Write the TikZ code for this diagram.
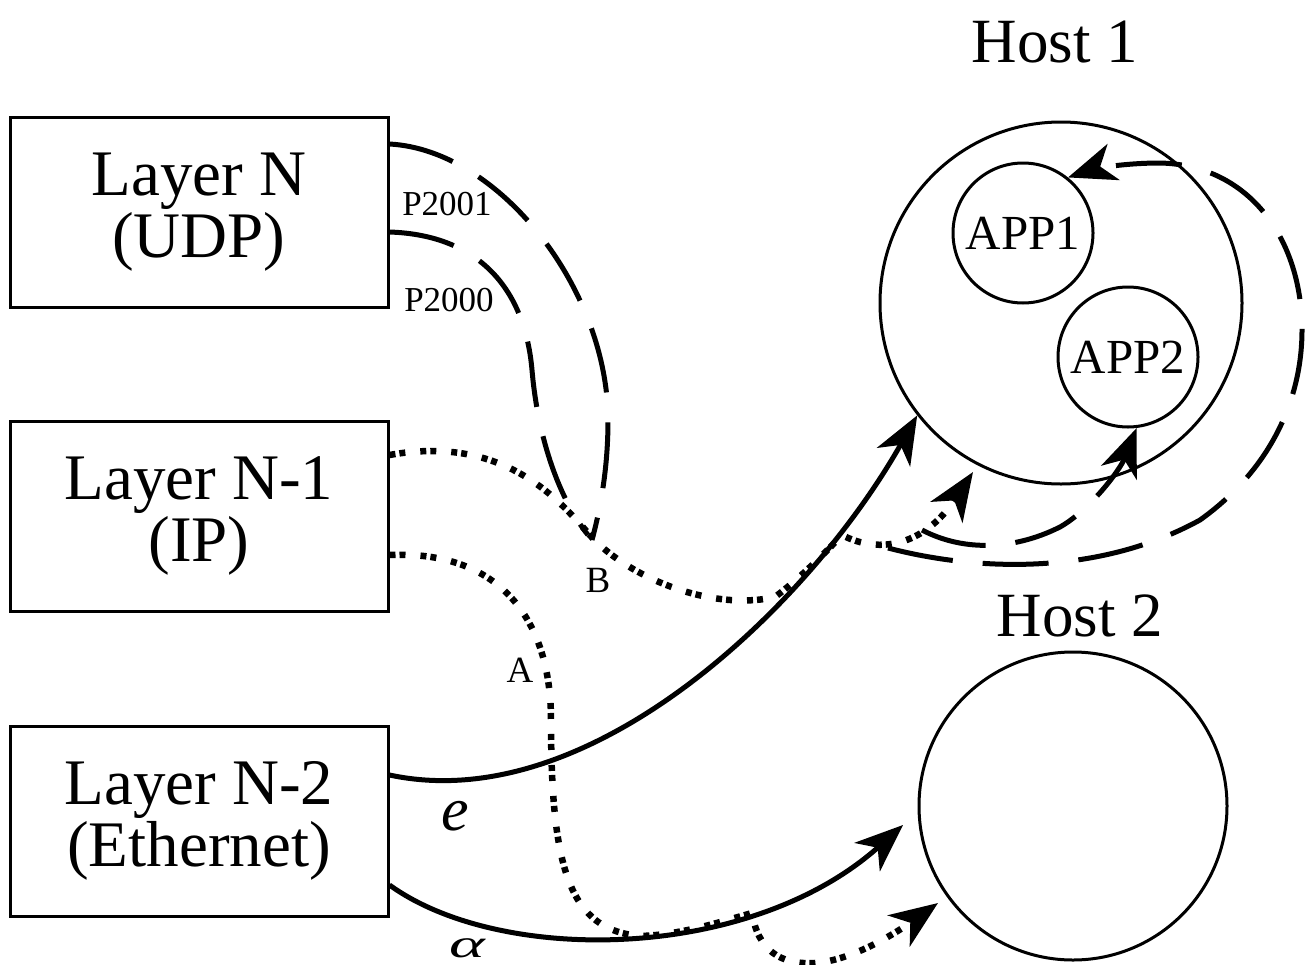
\documentclass[tikz,border=0pt]{standalone}
\usepackage{fontspec}
\usepackage{graphicx}
\setmainfont{Liberation Serif}
\usetikzlibrary{arrows.meta,calc}
\begin{document}
\begin{tikzpicture}[x=1pt,y=-1pt,
  layerbox/.style={draw, line width=3pt, minimum width=378pt, minimum height=190pt, inner sep=0pt, align=center, font=\fontsize{65}{62}\selectfont},
  hostcirc/.style={draw, circle, line width=3pt, inner sep=0pt},
  appcirc/.style={draw, circle, line width=3pt, inner sep=0pt, minimum size=140pt, font=\fontsize{49}{49}\selectfont},
  hostlabel/.style={anchor=base, font=\fontsize{63}{63}\selectfont},
  portlabel/.style={inner sep=0pt, font=\fontsize{35}{35}\selectfont},
  ptlabel/.style={inner sep=0pt, font=\fontsize{37}{37}\selectfont},
  headarrow/.style={-{Stealth[length=48pt,width=38pt,inset=14pt]}},
  solidconn/.style={line width=5pt},
  udpconn/.style={line width=5pt, dash pattern=on 66pt off 30pt},
  ipconn/.style={line width=6.5pt, dash pattern=on 6pt off 4pt on 6pt off 15pt},
]
\useasboundingbox (0,0) rectangle (1309,964);
\fill[white] (0,0) rectangle (1309,964);

% layer boxes
\node[layerbox] (L1) at (199,212) {Layer N\\(UDP)};
\node[layerbox] (L2) at (199,516) {Layer N-1\\(IP)};
\node[layerbox] (L3) at (199,821) {Layer N-2\\(Ethernet)};

% hosts
\node[hostcirc, minimum size=362pt] (H1) at (1061,303) {};
\node[hostcirc, minimum size=308pt] (H2) at (1073,806) {};
\node[appcirc] (A1) at (1023,233) {APP1};
\node[appcirc] (A2) at (1128,357) {APP2};
\node[hostlabel] (H1lab) at (1055,62) {Host 1};
\node[hostlabel] (H2lab) at (1080,636) {Host 2};

% labels
\node[portlabel] (p2001) at (447,204) {P2001};
\node[portlabel] (p2000) at (449,300) {P2000};
\node[ptlabel] (labB) at (598,580) {B};
\node[ptlabel] (labA) at (520,670) {A};
\node[inner sep=0pt] (labe) at (455,816) {\fontsize{62}{62}\selectfont\itshape e};
\node[inner sep=0pt, anchor=base] (labal) at (467,957) {\scalebox{1.7}[1]{\fontsize{40}{40}\selectfont\itshape α}};

% named coordinates
\coordinate (s1) at ($(L1.east)+(0,-68)$);
\coordinate (s2) at ($(L1.east)+(0,20)$);
\coordinate (sB) at ($(L2.east)+(0,-61)$);
\coordinate (sA) at ($(L2.east)+(0,39)$);
\coordinate (se) at ($(L3.east)+(0,-46)$);
\coordinate (sal) at ($(L3.east)+(0,64)$);
\coordinate (mB1) at (592,540);
\coordinate (mB2) at (588,535);
\coordinate (tipB) at (973,472);
\coordinate (tipA) at (938,903);
\coordinate (tipAl) at (903,825);
\coordinate (d1) at (888,548);
\coordinate (d2) at (922,530);

% UDP (dashed) from Layer N
\draw[udpconn] (s1) .. controls (500,150) and (608,290) .. (608,420)
   .. controls (608,470) and (600,510) .. (mB1);
\draw[udpconn] (s2) .. controls (480,235) and (525,290) .. (532,370)
   .. controls (538,440) and (560,500) .. (mB2);

% IP (dotted) from Layer N-1
\draw[ipconn, headarrow] (sB) .. controls (500,435) and (555,495) .. (588,533)
   .. controls (625,576) and (710,612) .. (775,597)
   .. controls (800,578) and (822,556) .. (842,535)
   .. controls (880,555) and (925,545) .. (tipB);
\draw[ipconn, headarrow] (sA) .. controls (500,550) and (551,620) .. (551,720)
   .. controls (551,870) and (570,930) .. (640,936)
   .. controls (680,935) and (720,922) .. (752,913)
   .. controls (758,950) and (780,965) .. (815,963)
   .. controls (855,960) and (900,930) .. (tipA);

% Ethernet (solid)
\draw[solidconn, headarrow] (se) .. controls (590,818) and (810,605) .. (H1.218);
\draw[solidconn, headarrow] (sal) .. controls (500,965) and (750,962) .. (tipAl);

% UDP demux inside host 1
\draw[udpconn, headarrow] (d1) .. controls (980,572) and (1100,575) .. (1200,520)
   .. controls (1270,470) and (1302,400) .. (1302,330)
   .. controls (1302,240) and (1250,165) .. (1160,163)
   .. controls (1120,163) and (1090,170) .. (A1.51);
\draw[udpconn, headarrow] (d2) .. controls (960,550) and (1010,552) .. (1060,527)
   .. controls (1090,510) and (1120,470) .. (A2.277);
\end{tikzpicture}
\end{document}
